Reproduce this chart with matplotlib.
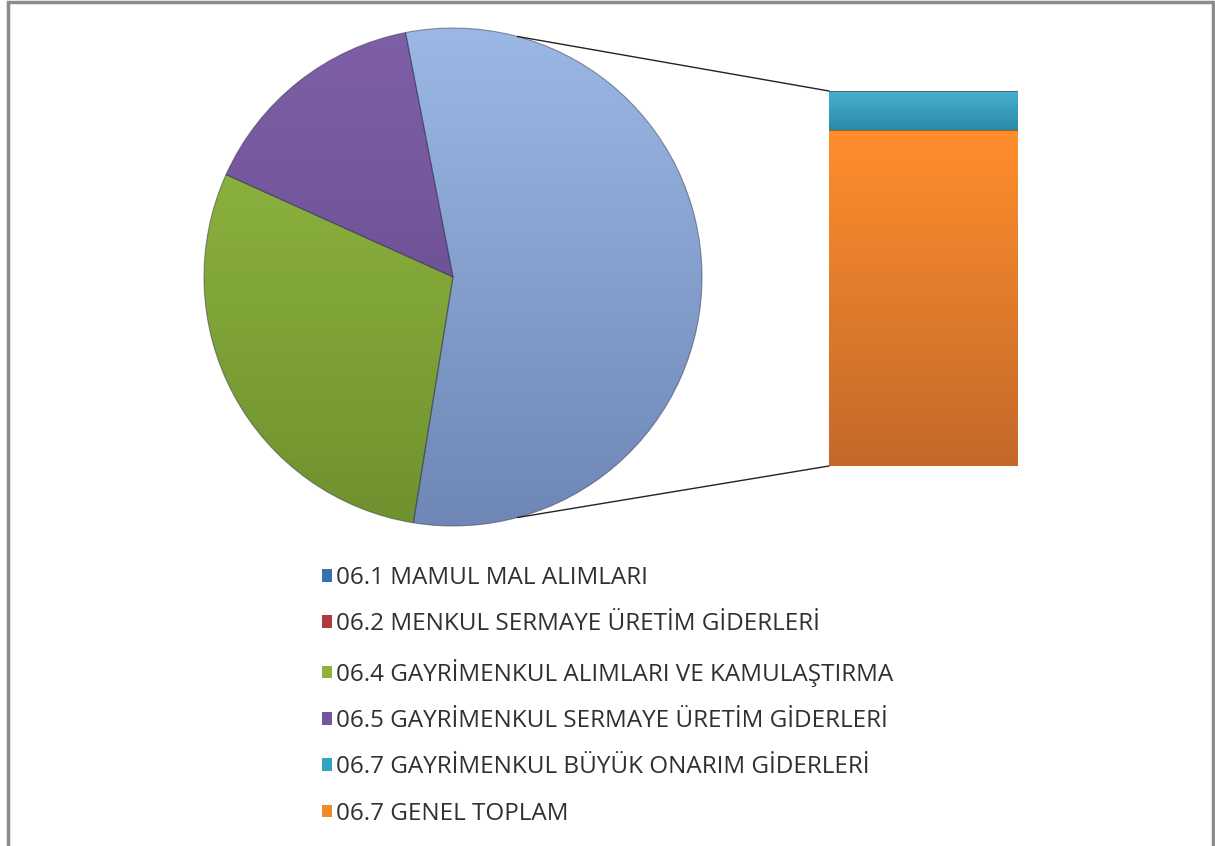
import matplotlib.pyplot as plt
import numpy as np
from matplotlib.patches import Patch, Rectangle, ConnectionPatch
from matplotlib.colors import LinearSegmentedColormap

# pie part (percent of whole)
pie_labels = ['06.1 MAMUL MAL ALIMLARI', '06.4 GAYRİMENKUL ALIMLARI VE KAMULAŞTIRMA',
              '06.5 GAYRİMENKUL SERMAYE ÜRETİM GİDERLERİ']
pie_vals = [55.6, 29.2, 15.2]
# bar part (share of the split-off slice)
bar_labels = ['06.7 GENEL TOPLAM', '06.7 GAYRİMENKUL BÜYÜK ONARIM GİDERLERİ']
bar_vals = [89.6, 10.4]

legend_labels = ['06.1 MAMUL MAL ALIMLARI', '06.2 MENKUL SERMAYE ÜRETİM GİDERLERİ',
                 '06.4 GAYRİMENKUL ALIMLARI VE KAMULAŞTIRMA',
                 '06.5 GAYRİMENKUL SERMAYE ÜRETİM GİDERLERİ',
                 '06.7 GAYRİMENKUL BÜYÜK ONARIM GİDERLERİ', '06.7 GENEL TOPLAM']
legend_colors = ['#3a6fb0', '#b0393b', '#8db33f', '#7454a0', '#34a3c4', '#f08a2c']

# gradients (top, bottom)
pie_grad = [('#9bb8e4', '#6e87b6'), ('#95bd44', '#6f912e'), ('#7f60a8', '#5f4585')]
bar_grad = [('#ff8e2c', '#c4692a'), ('#45b0cf', '#2b8ba8')]

W, H = 1215, 846
fig = plt.figure(figsize=(W / 100, H / 100), dpi=100)
ax = fig.add_axes([0, 0, 1, 1])

cx, cy, r = 453, H - 277, 249
wedges, _ = ax.pie(pie_vals, colors=[g[0] for g in pie_grad], startangle=101,
                   counterclock=False, center=(cx, cy), radius=r,
                   wedgeprops=dict(linewidth=0))
grad = np.linspace(0, 1, 256).reshape(-1, 1)
for w, (top, bot) in zip(wedges, pie_grad):
    cm = LinearSegmentedColormap.from_list('g', [bot, top])
    im = ax.imshow(grad, extent=[cx - r, cx + r, cy - r, cy + r], origin='lower',
                   cmap=cm, aspect='auto', zorder=2)
    im.set_clip_path(w)
    w.set_facecolor('none')
    w.set_edgecolor((0.2, 0.2, 0.3, 0.5))
    w.set_linewidth(0.8)
    w.set_zorder(3)
ax.set_xlim(0, W)
ax.set_ylim(0, H)
ax.set_aspect('auto')
ax.axis('off')

# bar of the split slice
bx = fig.add_axes([829 / W, (H - 466) / H, 189 / W, 375 / H])
bottom = 0
for v, (top, bot) in zip(bar_vals, bar_grad):
    b = bx.bar(0, v, width=1, bottom=bottom, color=top, linewidth=0)[0]
    cm = LinearSegmentedColormap.from_list('g', [bot, top])
    im = bx.imshow(grad, extent=[-0.5, 0.5, bottom, bottom + v], origin='lower',
                   cmap=cm, aspect='auto', zorder=2)
    im.set_clip_path(b)
    bx.plot([-0.5, 0.5], [bottom + v, bottom + v], color=(0.3, 0.2, 0.1, 0.5), lw=0.8, zorder=3)
    bottom += v
bx.set_xlim(-0.5, 0.5)
bx.set_ylim(0, sum(bar_vals))
bx.axis('off')

# connector lines
for ang, yb in [(75, sum(bar_vals)), (-75, 0)]:
    p = (cx + r * np.cos(np.radians(ang)), cy + r * np.sin(np.radians(ang)))
    con = ConnectionPatch(xyA=p, coordsA=ax.transData, xyB=(-0.5, yb), coordsB=bx.transData,
                          color='#222222', lw=1.0)
    fig.add_artist(con)

handles = [Patch(facecolor=c, edgecolor='none') for c in legend_colors]
leg = fig.legend(handles, legend_labels, loc='upper left', bbox_to_anchor=(322 / W, 1 - 566 / H),
                 frameon=False, labelspacing=0.92, handlelength=0.42,
                 handleheight=0.42, handletextpad=0.15, borderaxespad=0, borderpad=0,
                 prop={'family': 'Open Sans', 'size': 17.5})
for t in leg.get_texts():
    t.set_color('#303030')

fig.add_artist(Rectangle((7.5 / W, -0.05), (1213 - 7.5) / W, 1.05 - 2 / H,
                         transform=fig.transFigure, fill=False, edgecolor='#8c8c8c', lw=2.5))

fig.savefig('out.png', dpi=100)
